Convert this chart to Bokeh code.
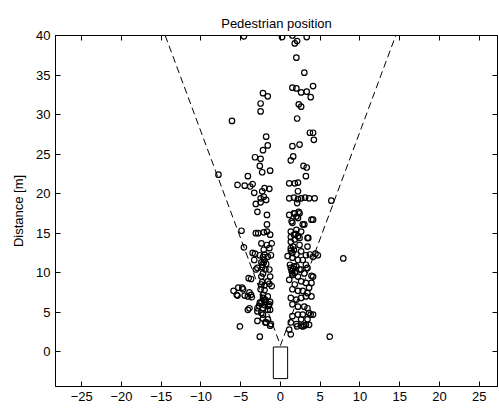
from bokeh.plotting import figure
from bokeh.models import Range1d, LinearAxis, FixedTicker
from bokeh.embed import file_html
from bokeh.resources import INLINE

title_text = "Pedestrian position"
y_label = "Distance [m]"
x_ticks = [-25, -20, -15, -10, -5, 0, 5, 10, 15, 20, 25]
y_ticks = [0, 5, 10, 15, 20, 25, 30, 35, 40]

# pedestrian positions (lateral x [m], distance y [m])
far_points = [
    (-4.6, 39.9), (0.2, 39.8), (1.5, 40.0), (1.8, 39.0), (2.1, 39.3), (3.3, 39.8),
    (2.0, 37.2), (3.0, 35.3), (1.5, 33.4), (2.0, 33.3), (2.6, 32.8), (3.3, 32.9),
    (4.1, 33.6), (3.8, 32.2), (-2.2, 32.7), (-1.6, 32.3), (-2.5, 31.4), (2.3, 31.3),
    (2.6, 31.0), (-2.5, 30.4), (-6.1, 29.2), (2.1, 29.5), (3.7, 27.7), (4.1, 27.7),
    (4.2, 26.8), (-1.8, 27.2), (-1.6, 26.1), (-2.2, 25.5), (1.5, 26.0), (2.4, 26.2),
    (-3.2, 24.6), (-2.5, 24.4), (1.3, 24.2), (1.6, 24.7), (-2.6, 23.5), (-2.3, 22.7),
    (-1.3, 22.9), (2.9, 23.5), (3.3, 23.3), (3.2, 22.2), (-7.8, 22.4), (-4.1, 22.2),
    (-5.4, 21.1), (-4.5, 21.0), (-3.8, 20.9), (-3.5, 21.2), (-3.3, 20.1), (-2.3, 20.3),
    (-2.0, 20.7), (-1.4, 20.6), (-2.5, 19.4), (-2.1, 19.6), (-3.1, 18.7), (-2.5, 18.9),
    (-1.8, 19.2), (1.1, 21.3), (1.8, 21.3), (2.2, 21.4), (2.2, 20.3), (1.1, 19.4),
    (1.7, 19.5), (2.2, 19.3), (2.6, 19.4), (3.1, 19.5), (3.6, 19.4), (4.3, 19.4),
    (2.1, 18.8), (6.4, 19.1), (-2.9, 17.7), (-1.7, 17.3), (1.7, 17.5), (2.3, 17.7),
    (2.0, 17.1), (-1.7, 16.1),
]

left_lane = [
    (-4.9, 15.3), (-2.8, 15.0), (-2.1, 15.1), (-1.7, 15.2), (-1.3, 14.8), (-3.1, 15.0),
    (-4.6, 13.2), (-1.7, 13.5), (-1.1, 13.7), (-2.1, 12.9), (-1.4, 13.1), (-2.4, 13.7),
    (-3.2, 12.4), (-2.6, 12.2), (-2.0, 12.3), (-1.2, 12.2), (-3.5, 12.5),
    (-2.2, 12.0), (-1.6, 12.0), (-2.0, 11.6), (-2.4, 11.3), (-1.8, 11.1), (-3.3, 11.6),
    (-2.1, 11.3), (-2.3, 11.0),
    (-2.9, 10.6), (-2.3, 10.7), (-1.9, 10.4), (-2.2, 9.9), (-1.4, 10.4), (-3.1, 10.4),
    (-3.7, 9.2), (-4.0, 9.3),
    (-1.3, 9.5), (-1.6, 8.9), (-2.3, 8.8), (-2.0, 8.4), (-1.4, 8.6), (-1.1, 8.3),
    (-2.5, 7.9), (-2.0, 7.8), (-2.4, 9.5), (-2.4, 8.5),
    (-5.9, 7.7), (-5.4, 7.1), (-4.8, 8.1), (-4.5, 7.1), (-3.9, 7.5), (-4.1, 7.0),
    (-3.6, 6.9), (-5.3, 8.1), (-4.7, 7.9), (-5.5, 7.2), (-3.7, 7.2),
    (-2.2, 7.2), (-1.6, 7.0), (-1.9, 6.6), (-2.4, 6.2), (-1.3, 6.3), (-2.7, 5.8),
    (-2.2, 5.5), (-1.5, 5.8), (-1.3, 5.3), (-2.2, 6.8), (-2.6, 6.2), (-1.4, 6.0),
    (-1.6, 5.3), (-1.9, 6.3), (-2.1, 6.5), (-2.0, 5.9),
    (-4.1, 5.3), (-2.9, 5.5), (-3.9, 5.5), (-2.9, 5.1),
    (-2.9, 3.9), (-2.2, 4.2), (-1.9, 3.7), (-1.3, 3.3), (-5.1, 3.2), (-2.2, 4.7),
    (-1.6, 4.1), (-1.2, 3.5), (-1.8, 3.7), (-2.4, 4.9), (-2.6, 1.9),
]

right_lane = [
    (1.1, 17.3), (1.8, 17.5), (2.4, 17.5), (2.2, 16.9), (1.5, 16.3), (2.8, 16.1),
    (3.9, 16.7), (1.3, 15.2), (2.0, 15.4), (2.6, 15.2), (2.2, 14.6), (1.3, 13.9),
    (1.8, 14.2), (2.4, 13.5), (3.4, 14.4), (3.4, 13.3), (1.3, 13.1), (2.0, 12.3),
    (2.6, 12.7), (1.5, 11.9), (2.2, 11.6), (2.8, 11.6), (1.3, 10.6), (2.0, 10.8),
    (2.4, 10.4), (1.5, 9.9), (2.2, 9.5), (3.0, 9.9), (3.4, 10.6), (4.1, 9.5),
    (1.1, 9.1), (1.8, 8.5), (2.6, 8.9), (3.2, 8.7), (3.6, 8.1), (3.9, 8.7),
    (1.5, 7.9), (2.2, 7.7), (2.8, 7.7), (3.4, 7.4), (1.3, 6.8), (2.0, 6.6),
    (2.6, 6.8), (3.2, 7.0), (3.9, 7.0), (1.5, 6.0), (2.2, 5.7), (3.0, 5.7),
    (3.4, 5.5), (3.6, 4.9), (1.5, 4.5), (2.2, 4.7), (2.8, 4.7), (4.1, 4.7),
    (1.3, 3.7), (2.0, 3.5), (2.6, 3.3), (3.0, 3.3), (3.6, 3.4),
    (1.3, 12.8), (1.5, 12.5), (1.7, 12.9), (1.4, 10.2), (1.6, 10.5), (1.8, 10.0),
    (1.5, 9.7), (1.6, 13.3), (1.3, 14.5), (1.7, 14.8),
    (1.4, 16.5), (1.9, 14.9), (2.4, 14.4), (3.5, 14.4), (4.7, 12.2), (4.1, 12.0),
    (0.9, 12.1), (3.2, 12.2), (3.7, 12.3), (4.4, 12.4), (1.2, 11.0), (1.7, 10.8),
    (2.6, 10.4), (3.2, 11.0), (3.9, 9.6), (4.1, 16.7), (3.0, 16.1),
    (1.3, 2.2), (1.1, 2.8), (2.1, 3.2), (2.8, 3.2), (3.2, 3.4), (2.6, 4.1),
    (3.4, 4.1), (3.8, 4.7),
]

outliers = [(7.9, 11.8), (6.2, 1.9)]

# camera field-of-view boundary (left top, apex, right top)
fov_x = [-14.5, 0.0, 14.5]
fov_y = [40.0, 0.8, 40.0]

# vehicle outline
car_left, car_right = [-0.9], [0.9]
car_bottom, car_top = [-3.4], [0.6]

all_points = far_points + left_lane + right_lane + outliers
ped_x = [pt[0] for pt in all_points]
ped_y = [pt[1] for pt in all_points]

FONT = "Liberation Sans"

p = figure(width=499, height=408,
           x_range=Range1d(-28.3, 27.3), y_range=Range1d(-4.4, 40.0),
           output_backend="svg", toolbar_location=None,
           title=title_text,
           min_border_left=55, min_border_right=2,
           min_border_top=35, min_border_bottom=22)

p.background_fill_color = "white"
p.border_fill_color = "white"
p.outline_line_color = "black"
p.outline_line_width = 1
p.grid.visible = False

p.title.align = "center"
p.title.text_font = FONT
p.title.text_font_size = "13px"
p.title.text_font_style = "normal"
p.title.text_color = "black"

p.xaxis.ticker = FixedTicker(ticks=x_ticks)
p.yaxis.ticker = FixedTicker(ticks=y_ticks)
p.yaxis.axis_label = y_label

for ax in (p.xaxis[0], p.yaxis[0]):
    ax.major_tick_in = 5
    ax.major_tick_out = 0
    ax.minor_tick_in = 0
    ax.minor_tick_out = 0
    ax.axis_line_color = "black"
    ax.major_tick_line_color = "black"
    ax.major_label_text_font = FONT
    ax.major_label_text_font_size = "13px"
    ax.major_label_text_color = "black"
    ax.major_label_standoff = 5
    ax.axis_label_text_font = FONT
    ax.axis_label_text_font_size = "13px"
    ax.axis_label_text_font_style = "normal"
    ax.axis_label_text_color = "black"
    ax.axis_label_standoff = 7

top_axis = LinearAxis(ticker=FixedTicker(ticks=x_ticks))
right_axis = LinearAxis(ticker=FixedTicker(ticks=y_ticks))
for ax in (top_axis, right_axis):
    ax.major_tick_in = 5
    ax.major_tick_out = 0
    ax.minor_tick_in = 0
    ax.minor_tick_out = 0
    ax.axis_line_color = "black"
    ax.major_label_text_color = None
    ax.major_label_text_font_size = "1px"
    ax.major_label_standoff = 0
top_axis.major_label_standoff = 7
p.add_layout(top_axis, "above")
p.add_layout(right_axis, "right")

p.line(fov_x, fov_y, line_color="black", line_width=1, line_dash="7 4")
p.quad(left=car_left, right=car_right, bottom=car_bottom, top=car_top,
       fill_color=None, line_color="black", line_width=1)
p.scatter(ped_x, ped_y, marker="circle", size=5.5, fill_color=None,
          line_color="black", line_width=1.2)

open("out.html", "w").write(file_html(p, INLINE))
